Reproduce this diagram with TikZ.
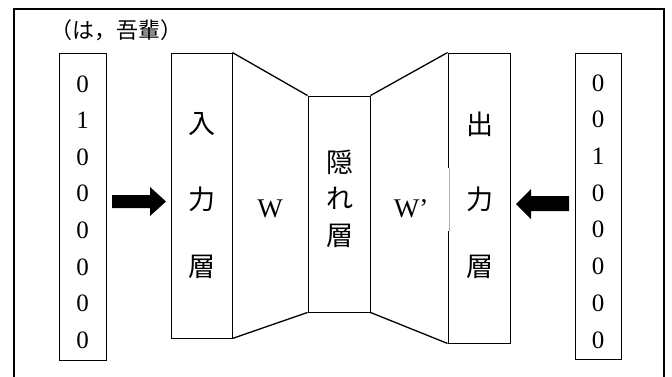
\documentclass[tikz,border=0pt]{standalone}
\usepackage{fontspec}
\setmainfont{Liberation Serif}
\newfontfamily\jp{Noto Sans CJK JP}
\begin{document}
\begin{tikzpicture}[x=1pt,y=-1pt,
  box/.style={draw,line width=0.9pt,fill=white,inner sep=0pt},
  digit/.style={font=\fontsize{25}{25}\selectfont,inner sep=0pt},
  jch/.style={font=\jp\fontsize{27}{27}\selectfont,inner sep=0pt},
  wlab/.style={font=\fontsize{27}{27}\selectfont,inner sep=0pt},
  slant/.style={line width=1.3pt}]
\useasboundingbox (0,0) rectangle (672,376);
% frame
\draw[line width=1.8pt] (14,9) rectangle (664,380);
% label
\node[anchor=west,inner sep=0pt,font=\jp\fontsize{22}{22}\selectfont] (lab) at (50,30) {（は，吾輩）};
% boxes
\node[box,minimum width=47pt,minimum height=307pt] (invec) at (82.5,206.5) {};
\node[box,minimum width=61pt,minimum height=285pt] (inlayer) at (201.5,195.5) {};
\node[box,minimum width=62pt,minimum height=216pt] (hidden) at (339,204) {};
\node[box,minimum width=62pt,minimum height=290pt] (outlayer) at (479,198) {};
\node[box,minimum width=46pt,minimum height=306pt] (outvec) at (598,206) {};
% trapezoid sides
\draw[slant] (inlayer.north east) -- (hidden.north west);
\draw[slant] (inlayer.south east) -- (hidden.south west);
\draw[slant] (hidden.north east) -- (outlayer.north west);
\draw[slant] (hidden.south east) -- (outlayer.south west);
% gap in output layer left edge
\draw[white,line width=1.6pt] (448,168) -- (448,231);
\draw[gray!60,line width=0.4pt] (449,168) -- (449,231);
% digits
\foreach \d [count=\i from 0] in {0,1,0,0,0,0,0,0}
  \node[digit] (l\i) at (82.5,{84+36.6*\i}) {\d};
\foreach \d [count=\i from 0] in {0,0,1,0,0,0,0,0}
  \node[digit] (r\i) at (598,{83+36.7*\i}) {\d};
% layer texts
\node[jch] (in1) at (202,124) {入};
\node[jch] (in2) at (202,199) {力};
\node[jch] (in3) at (202,267) {層};
\node[wlab] (w1) at (270,209) {W};
\node[jch] (h1) at (340,162) {隠};
\node[jch] (h2) at (340,198) {れ};
\node[jch] (h3) at (340,236) {層};
\node[wlab] (w2) at (411,209) {W’};
\node[jch] (o1) at (480,124) {出};
\node[jch] (o2) at (480,199) {力};
\node[jch] (o3) at (480,267) {層};
% block arrows
\fill (112,195) -- (150,195) -- (150,187) -- (166,201.5) -- (150,216) -- (150,208) -- (112,208) -- cycle;
\fill (569,196) -- (531,196) -- (531,189) -- (516,204) -- (531,219) -- (531,211) -- (569,211) -- cycle;
\end{tikzpicture}
\end{document}
